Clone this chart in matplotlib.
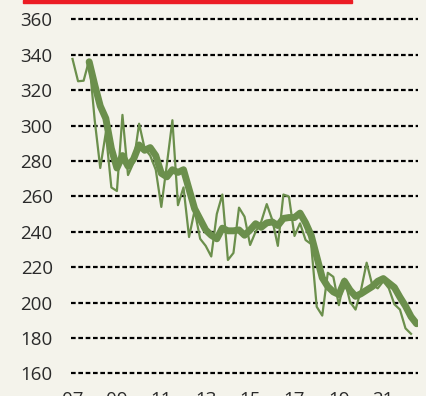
import matplotlib.pyplot as plt
from matplotlib.patches import Rectangle
import numpy as np

# quarterly series, first quarter of 2007 onward
start_year = 2007
quarterly = [337.6, 325, 325.3, 337, 303, 276, 296, 265, 263, 306,
             272, 279, 301, 287, 283, 275, 254, 278, 303, 255,
             265, 237, 252, 236, 232, 226, 250, 261, 224, 228,
             253.6, 248.5, 232.5, 240, 245.6, 255.6, 246.6, 232, 261, 259.8,
             237.6, 244.7, 235.3, 233, 197.6, 192.6, 216.8, 214.5, 198.5, 213.5,
             200.4, 196, 207.3, 222.5, 210, 208, 212, 208, 199, 196,
             185.4, 182.3]

# smoothed series, starts at the fourth quarter
smooth_offset = 3
smoothed = [336, 323, 311, 304, 287, 276, 283, 277, 281, 289,
            286, 287.5, 283, 273, 271, 275, 273.5, 275, 264, 253,
            247, 241, 238, 236, 242, 240.5, 240.5, 241, 238, 241,
            244.5, 242.5, 245, 245.5, 243.5, 247.5, 248, 248, 250.5, 245,
            238, 226, 214, 209, 206, 204.5, 212, 207, 203.5, 205,
            207, 209, 212, 213.5, 211, 208.5, 203, 198, 192, 188]

yticks = [160, 180, 200, 220, 240, 260, 280, 300, 320, 340, 360]
xtick_years = [2007, 2009, 2011, 2013, 2015, 2017, 2019, 2021]
xtick_labels = ['07', '09', '11', '13', '15', '17', '19', '21']

bg = '#f4f3eb'
green = '#6b8f4c'

x_q = start_year + np.arange(len(quarterly)) / 4
x_s = start_year + (np.arange(len(smoothed)) + smooth_offset) / 4

plt.rcParams['font.family'] = ['Open Sans', 'DejaVu Sans']

fig = plt.figure(figsize=(4.27, 3.96), dpi=100, facecolor=bg)
ax = fig.add_axes([0.1656, 0.0439, 0.8133, 0.9163])
ax.set_facecolor(bg)

for y in yticks:
    ax.axhline(y, color='black', lw=1.6, dashes=(2.1, 1.2), zorder=1)

ax.plot(x_q, quarterly, color=green, lw=1.6, zorder=2)
ax.plot(x_s, smoothed, color=green, lw=5, solid_capstyle='round',
        solid_joinstyle='round', zorder=3)

ax.set_xlim(2006.919, 2022.563)
ax.set_ylim(157, 362)
ax.set_yticks(yticks)
ax.set_xticks(xtick_years)
ax.set_xticklabels(xtick_labels)
ax.tick_params(axis='y', length=0, pad=13, labelsize=13.5, labelcolor='#2a2a2a')
ax.tick_params(axis='x', length=0, pad=9, labelsize=13.5, labelcolor='#2a2a2a')
for s in ax.spines.values():
    s.set_visible(False)

# red header bar
fig.patches.append(Rectangle((23 / 427, 1 - 3 / 396), 329 / 427, 3 / 396,
                             transform=fig.transFigure, color='#ec1c24',
                             zorder=5))

fig.savefig('out.png', dpi=100, facecolor=bg)
